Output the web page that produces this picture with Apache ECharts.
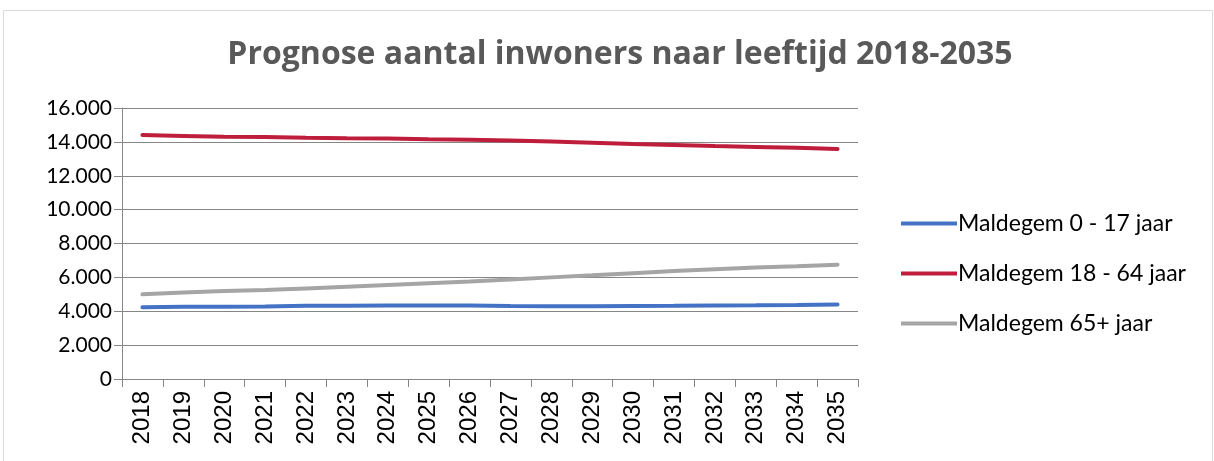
<!DOCTYPE html>
<html>
<head>
<meta charset="utf-8">
<script src="https://cdn.jsdelivr.net/npm/echarts@6/dist/echarts.min.js"></script>
<style>
  html, body { margin: 0; padding: 0; background: #fff; }
  #chart { width: 1214px; height: 461px; }
</style>
</head>
<body>
<div id="chart"></div>
<script>
// jaren
const years = ['2018', '2019', '2020', '2021', '2022', '2023', '2024', '2025', '2026',
  '2027', '2028', '2029', '2030', '2031', '2032', '2033', '2034', '2035']

const age0to17 = [4240, 4260, 4270, 4280, 4320, 4330, 4340, 4340, 4340, 4310, 4300, 4300, 4310, 4320, 4340, 4350, 4370, 4400]
const age18to64 = [14400, 14350, 14300, 14290, 14250, 14220, 14200, 14150, 14120, 14080, 14020, 13950, 13880, 13820, 13750, 13700, 13650, 13580]
const age65plus = [5000, 5100, 5200, 5250, 5350, 5450, 5550, 5650, 5750, 5880, 6000, 6120, 6250, 6370, 6480, 6580, 6660, 6750]

const seriesNames = ['Maldegem 0 - 17 jaar', 'Maldegem 18 - 64 jaar', 'Maldegem 65+ jaar']
const colors = ['#4472C4', '#BE1E3C', '#A5A5A5']

const chart = echarts.init(document.getElementById('chart'))

function line(name, data, color) {
  return {
    name: name,
    type: 'line',
    data: data,
    symbol: 'none',
    lineStyle: {width: 4, color: color, cap: 'round'},
    itemStyle: {color: color}
  }
}

chart.setOption({
  animation: false,
  color: colors,
  title: {
    text: 'Prognose aantal inwoners naar leeftijd 2018-2035',
    left: 615,
    textAlign: 'center',
    top: 34,
    textStyle: {
      fontFamily: 'Open Sans',
      fontWeight: 'bold',
      fontSize: 32,
      color: '#595959'
    }
  },
  graphic: [{
    type: 'rect',
    shape: {x: 3.5, y: 10.5, width: 1209, height: 460},
    style: {fill: 'none', stroke: '#D9D9D9', lineWidth: 1},
    silent: true
  }],
  legend: {
    orient: 'vertical',
    left: 896,
    top: 207,
    itemWidth: 56,
    itemHeight: 4,
    itemGap: 27,
    icon: 'rect',
    data: seriesNames,
    textStyle: {fontFamily: 'Lato', fontSize: 23, color: '#000', padding: [0, 0, 0, -4]}
  },
  grid: {
    left: 122,
    right: 356,
    top: 108,
    bottom: 82
  },
  xAxis: {
    type: 'category',
    data: years,
    boundaryGap: true,
    axisLine: {lineStyle: {color: '#868686', width: 1}},
    axisTick: {show: true, length: 8, lineStyle: {color: '#868686'}},
    axisLabel: {
      rotate: 90,
      fontFamily: 'Liberation Sans',
      fontSize: 24,
      color: '#000',
      margin: 12
    }
  },
  yAxis: {
    type: 'value',
    min: 0,
    max: 16000,
    interval: 2000,
    axisLine: {show: true, lineStyle: {color: '#868686', width: 1}},
    axisTick: {show: true, length: 8, lineStyle: {color: '#868686'}},
    splitLine: {lineStyle: {color: '#868686', width: 1}},
    axisLabel: {
      fontFamily: 'Lato',
      fontSize: 21,
      color: '#000',
      margin: 10,
      formatter: function (value) {
        return value.toLocaleString('nl-BE')
      }
    }
  },
  series: [
    line(seriesNames[0], age0to17, colors[0]),
    line(seriesNames[1], age18to64, colors[1]),
    line(seriesNames[2], age65plus, colors[2])
  ]
})
</script>
</body>
</html>
